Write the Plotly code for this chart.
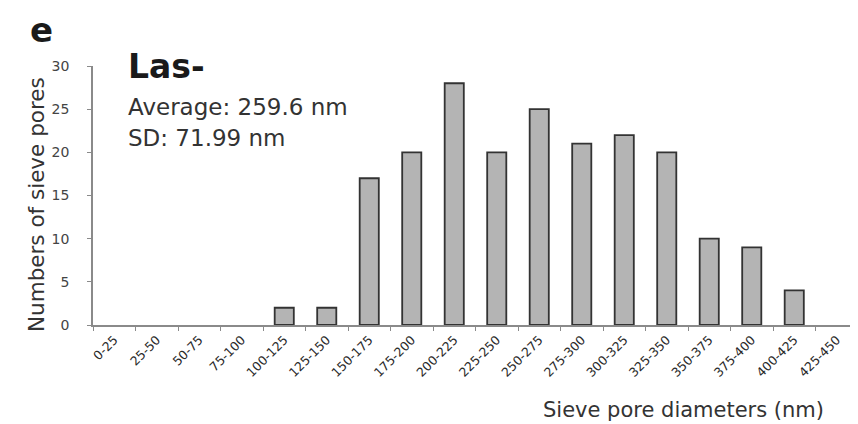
import plotly.graph_objects as go

categories = ["0-25", "25-50", "50-75", "75-100", "100-125", "125-150", "150-175",
              "175-200", "200-225", "225-250", "250-275", "275-300", "300-325",
              "325-350", "350-375", "375-400", "400-425", "425-450"]
counts = [0, 0, 0, 0, 2, 2, 17, 20, 28, 20, 25, 21, 22, 20, 10, 9, 4, 0]
y_ticks = [0, 5, 10, 15, 20, 25, 30]

W, H = 858, 424
L, R, T, B = 85, 8, 58, 107
pw, ph = W - L - R, H - T - B

def px(x):
    return (x - L) / pw

def py(y):
    return (H - B - y) / ph

FONT = "DejaVu Sans"

fig = go.Figure()
fig.add_trace(go.Bar(
    x=categories, y=counts,
    marker=dict(color="#b4b4b4",
                line=dict(color="#333333", width=[1.8 if v else 0 for v in counts])),
))

fig.update_layout(
    width=W, height=H,
    margin=dict(l=L, r=R, t=T, b=B),
    paper_bgcolor="white", plot_bgcolor="white",
    bargap=0.55,
    showlegend=False,
    font=dict(family=FONT, color="#222222"),
    xaxis=dict(
        type="category",
        showline=True, linecolor="#8a8a8a", linewidth=1.5,
        ticks="outside", ticklen=4, tickcolor="#8a8a8a", tickson="boundaries",
        tickangle=-45, tickfont=dict(size=12.5, color="#2a2a2a", family=FONT),
        ticklabelstandoff=1,
        showgrid=False, zeroline=False,
    ),
    yaxis=dict(
        range=[0, 30], tickvals=y_ticks,
        showline=True, linecolor="#8a8a8a", linewidth=1.5,
        ticks="outside", ticklen=4, tickcolor="#8a8a8a",
        tickfont=dict(size=14, color="#444444", family=FONT),
        ticklabelstandoff=15,
        showgrid=False, zeroline=False,
    ),
)

def ann(text, x, y, size, bold=False, angle=0, xanchor="left", color="#1a1a1a"):
    if bold:
        text = "<b>" + text + "</b>"
    fig.add_annotation(
        text=text, x=px(x), y=py(y), xref="paper", yref="paper",
        showarrow=False, xanchor=xanchor, yanchor="middle", textangle=angle,
        font=dict(size=size, family=FONT, color=color),
    )

ann("e", 20, 22, 34, bold=True)
ann("Las-", 118, 58, 33, bold=True)
ann("Average: 259.6 nm", 118, 99, 23, color="#333333")
ann("SD: 71.99 nm", 118, 130, 23, color="#333333")
ann("Numbers of sieve pores", 28, 197, 21.5, angle=-90, xanchor="center", color="#333333")
ann("Sieve pore diameters (nm)", 675, 402, 21, xanchor="center", color="#333333")

fig.write_html("out.html")
